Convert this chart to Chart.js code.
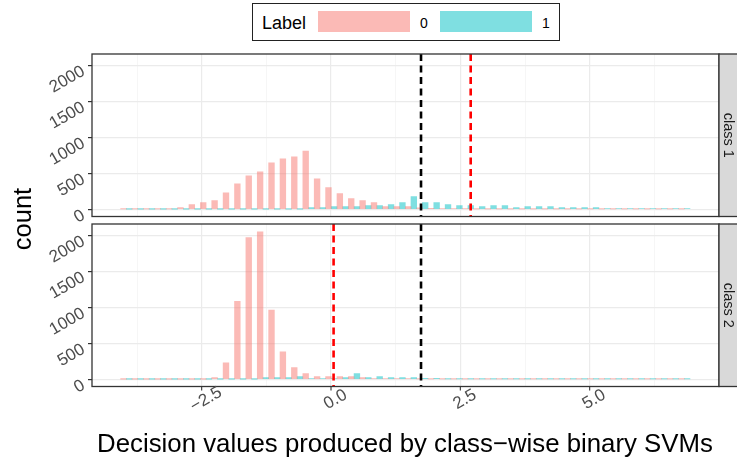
<!DOCTYPE html>
<html>
<head>
<meta charset="utf-8">
<script src="https://cdn.jsdelivr.net/npm/chart.js@4/dist/chart.umd.min.js"></script>
<style>
html,body{margin:0;padding:0;background:#fff;}
#wrap{position:relative;width:737px;height:459px;overflow:hidden;background:#fff;font-family:"Liberation Sans",Arial,sans-serif;}
canvas{position:absolute;left:0;}
#c1{top:50px;}
#c2{top:220px;}
#legend{position:absolute;left:252px;top:3px;width:308px;height:38px;box-sizing:border-box;border:1px solid #222;}
#legend .t{position:absolute;top:8px;height:22px;line-height:22px;white-space:nowrap;color:#000;}
#legend .k{position:absolute;top:7px;width:92px;height:21px;}
#ytitle{position:absolute;left:22px;top:219px;width:0;height:0;}
#ytitle span{position:absolute;left:-60px;top:-15px;width:120px;height:30px;line-height:30px;text-align:center;font-size:25.5px;transform:rotate(-90deg);color:#000;}
#xtitle{position:absolute;left:5px;top:428px;width:800px;height:30px;line-height:30px;text-align:center;font-size:25.8px;color:#000;white-space:nowrap;}
</style>
</head>
<body>
<div id="wrap">
  <canvas id="c1" width="737" height="185"></canvas>
  <canvas id="c2" width="737" height="239"></canvas>
  <div id="legend">
    <span class="t" id="lgTitle" style="left:9px;font-size:18px;"></span>
    <div class="k" style="left:65px;background:rgba(248,118,109,0.5);"></div>
    <span class="t" id="lg0" style="left:167px;font-size:14px;"></span>
    <div class="k" style="left:187px;background:rgba(0,191,196,0.5);"></div>
    <span class="t" id="lg1" style="left:289px;font-size:14px;"></span>
  </div>
  <div id="ytitle"><span id="ytitleText"></span></div>
  <div id="xtitle"></div>
</div>
<script>
// ---- data ----
const binCenters = [-3.956,-3.736,-3.516,-3.296,-3.076,-2.855,-2.635,-2.415,-2.195,-1.975,
  -1.755,-1.535,-1.315,-1.095,-0.875,-0.655,-0.434,-0.214,0.006,0.226,
  0.446,0.666,0.886,1.106,1.326,1.546,1.766,1.987,2.207,2.427,
  2.647,2.867,3.087,3.307,3.527,3.747,3.967,4.188,4.408,4.628,
  4.848,5.068,5.288,5.508,5.728,5.948,6.168,6.388,6.609,6.829];

const class1Label0 = [4,4,4,4,5,23,65,92,120,230,
  355,466,521,645,700,728,808,424,300,217,
  148,120,92,37,37,37,20,12,10,8,
  8,5,5,5,5,5,5,5,5,5,
  5,5,5,5,5,5,5,5,5,5];
const class1Label1 = [3,3,3,3,3,3,3,3,3,3,
  3,3,3,3,3,3,23,23,37,37,
  37,50,50,65,92,175,92,92,65,50,
  50,37,50,50,23,37,37,37,23,23,
  23,23,8,8,8,8,8,8,8,8];
const class2Label0 = [3,3,3,3,3,3,3,3,23,230,
  1083,1965,2047,959,381,161,78,37,37,37,
  37,23,10,10,10,10,4,4,4,4,
  4,4,4,4,4,4,4,4,4,4,
  4,4,4,4,4,4,4,4,4,4];
const class2Label1 = [3,3,3,3,3,3,3,3,3,3,
  3,3,23,23,23,37,10,8,8,23,
  78,23,37,23,23,23,15,15,5,5,
  5,5,5,5,5,5,5,5,5,5,
  5,5,5,5,5,5,5,5,5,5];

const xMajorTicks = [-2.5, 0, 2.5, 5];
const xMinorTicks = [-3.75, -1.25, 1.25, 3.75, 6.25];
const xTickLabels = ['\u22122.5', '0.0', '2.5', '5.0'];
const yMajorTicks = [0, 500, 1000, 1500, 2000];
const yMinorTicks = [250, 750, 1250, 1750];
const yTickLabels = ['0', '500', '1000', '1500', '2000'];
const blackLineValue = 1.74;
const redLineValues = [2.70, 0.05];
const panelLabels = ['class 1', 'class 2'];
const legendTitle = 'Label';
const legendLabels = ['0', '1'];
const xTitle = 'Decision values produced by class\u2212wise binary SVMs';
const yTitle = 'count';

// ---- text ----
document.getElementById('lgTitle').textContent = legendTitle;
document.getElementById('lg0').textContent = legendLabels[0];
document.getElementById('lg1').textContent = legendLabels[1];
document.getElementById('xtitle').textContent = xTitle;
document.getElementById('ytitleText').textContent = yTitle;

const FONT = '"Liberation Sans", Arial, sans-serif';
const PINK = 'rgba(248,118,109,0.5)';
const TEAL = 'rgba(0,191,196,0.5)';
const allX = xMajorTicks.concat(xMinorTicks).sort((a,b)=>a-b);
const allY = yMajorTicks.concat(yMinorTicks).sort((a,b)=>a-b);

const decor = {
  id: 'decor',
  afterDatasetsDraw(chart, args, opts) {
    const {ctx, chartArea: a, scales: {x}} = chart;
    ctx.save();
    ctx.beginPath();
    ctx.rect(a.left, a.top, a.right - a.left, a.bottom - a.top);
    ctx.clip();
    ctx.setLineDash([7, 4.5]);
    ctx.lineWidth = 2.6;
    const lines = [[blackLineValue, '#000000'], [redLineValues[opts.panel], '#FF0000']];
    for (const [v, c] of lines) {
      const px = x.getPixelForValue(v);
      ctx.strokeStyle = c;
      ctx.beginPath();
      ctx.moveTo(px, a.top);
      ctx.lineTo(px, a.bottom);
      ctx.stroke();
    }
    ctx.restore();
    ctx.save();
    ctx.strokeStyle = '#333333';
    ctx.lineWidth = 1.3;
    ctx.strokeRect(a.left, a.top, a.right - a.left, a.bottom - a.top);
    ctx.restore();
  },
  afterDraw(chart, args, opts) {
    const {ctx, chartArea: a, scales: {x, y}} = chart;
    // strip
    ctx.save();
    ctx.fillStyle = '#D9D9D9';
    ctx.fillRect(a.right, a.top, 20, a.bottom - a.top);
    ctx.strokeStyle = '#333333';
    ctx.lineWidth = 1.3;
    ctx.strokeRect(a.right, a.top, 20, a.bottom - a.top);
    ctx.translate(a.right + 9, (a.top + a.bottom) / 2);
    ctx.rotate(Math.PI / 2);
    ctx.fillStyle = '#1A1A1A';
    ctx.font = '14.5px ' + FONT;
    ctx.textAlign = 'center';
    ctx.textBaseline = 'middle';
    ctx.fillText(panelLabels[opts.panel], 0, 0);
    ctx.restore();
    // y tick labels (rotated 30 degrees, hanging below the tick)
    ctx.save();
    ctx.fillStyle = '#4D4D4D';
    ctx.font = '17px ' + FONT;
    ctx.textAlign = 'right';
    ctx.textBaseline = 'alphabetic';
    yMajorTicks.forEach((v, i) => {
      const py = y.getPixelForValue(v);
      ctx.save();
      ctx.translate(a.left - 6, py + 9);
      ctx.rotate(-Math.PI / 6);
      ctx.fillText(yTickLabels[i], 0, 0);
      ctx.restore();
    });
    ctx.restore();
    if (opts.bottom) {
      ctx.save();
      ctx.strokeStyle = '#333333';
      ctx.lineWidth = 1.1;
      ctx.fillStyle = '#4D4D4D';
      ctx.font = '17px ' + FONT;
      ctx.textAlign = 'center';
      ctx.textBaseline = 'middle';
      xMajorTicks.forEach((v, i) => {
        const px = x.getPixelForValue(v);
        ctx.beginPath();
        ctx.moveTo(px, a.bottom);
        ctx.lineTo(px, a.bottom + 4);
        ctx.stroke();
        ctx.save();
        ctx.translate(px + 4.5, a.bottom + 13);
        ctx.rotate(-Math.PI / 6);
        ctx.fillText(xTickLabels[i], 0, 0);
        ctx.restore();
      });
      ctx.restore();
    }
  }
};

function makeChart(id, s0, s1, panel, bottom) {
  return new Chart(document.getElementById(id), {
    type: 'bar',
    data: {
      datasets: [
        {label: legendLabels[0], data: binCenters.map((v, i) => ({x: v, y: s0[i]})),
         backgroundColor: PINK, borderWidth: 0, categoryPercentage: 1, barPercentage: 1},
        {label: legendLabels[1], data: binCenters.map((v, i) => ({x: v, y: s1[i]})),
         backgroundColor: TEAL, borderWidth: 0, categoryPercentage: 1, barPercentage: 1}
      ]
    },
    options: {
      responsive: false,
      animation: false,
      layout: {padding: {top: 4, left: 0, right: 18, bottom: bottom ? 72.5 : 18.5}},
      plugins: {legend: {display: false}, tooltip: {enabled: false}, decor: {panel: panel, bottom: bottom}},
      scales: {
        x: {
          type: 'linear', min: -4.62, max: 7.5, offset: false,
          afterBuildTicks: s => { s.ticks = allX.map(v => ({value: v})); },
          afterFit: s => { s.height = 0; s.paddingLeft = 0; s.paddingRight = 0; },
          ticks: {display: false},
          border: {display: false},
          grid: {
            offset: false, drawTicks: false,
            color: c => xMajorTicks.includes(c.tick.value) ? '#EBEBEB' : '#F2F2F2',
            lineWidth: c => xMajorTicks.includes(c.tick.value) ? 1.2 : 0.7
          }
        },
        y: {
          min: -100, max: 2155,
          afterBuildTicks: s => { s.ticks = allY.map(v => ({value: v})); },
          afterFit: s => { s.width = 92; s.paddingTop = 0; s.paddingBottom = 0; },
          ticks: {
            padding: 3, font: {size: 17, family: FONT},
            callback: () => ''
          },
          border: {display: false},
          grid: {
            tickLength: 4,
            tickColor: c => yMajorTicks.includes(c.tick.value) ? '#333333' : 'rgba(0,0,0,0)',
            color: c => yMajorTicks.includes(c.tick.value) ? '#EBEBEB' : '#F2F2F2',
            lineWidth: c => yMajorTicks.includes(c.tick.value) ? 1.2 : 0.7
          }
        }
      }
    },
    plugins: [decor]
  });
}

makeChart('c1', class1Label0, class1Label1, 0, false);
makeChart('c2', class2Label0, class2Label1, 1, true);
</script>
</body>
</html>
